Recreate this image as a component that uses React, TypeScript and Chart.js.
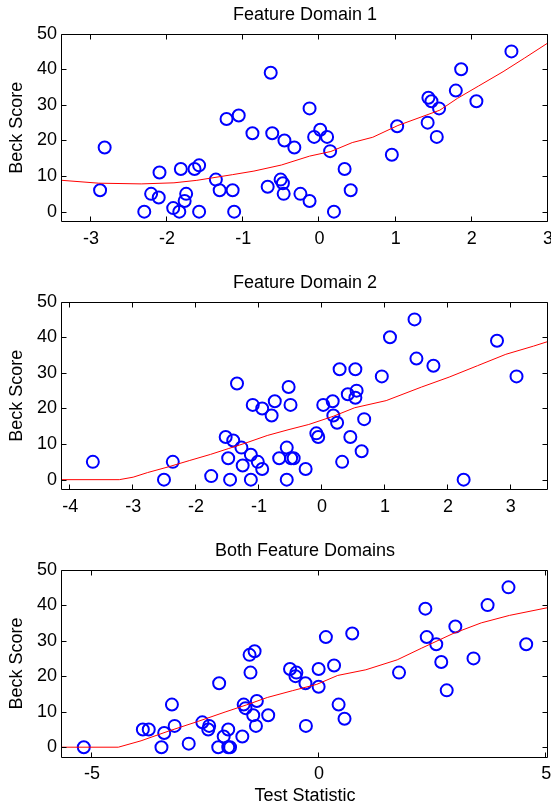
import React, { useEffect, useRef } from "react";
import { Chart, registerables } from "chart.js";

Chart.register(...registerables);

const FONT = '"Liberation Sans", Arial, Helvetica, sans-serif';

const yTicks = [0, 10, 20, 30, 40, 50];

// Panel 1: Feature Domain 1
const p1Title = "Feature Domain 1";
const p1XTicks = [-3, -2, -1, 0, 1, 2, 3];
const p1X = [-2.88, -2.82, -2.3, -2.21, -2.11, -2.1, -1.92, -1.84, -1.82, -1.77, -1.75, -1.64, -1.58, -1.58, -1.36, -1.31, -1.14, -1.12, -1.22, -1.06, -0.88, -0.68, -0.64, -0.62, -0.51, -0.48, -0.47, -0.46, -0.33, -0.25, -0.13, -0.13, -0.07, 0.01, 0.1, 0.14, 0.19, 0.33, 0.41, 0.95, 1.02, 1.42, 1.43, 1.47, 1.54, 1.57, 1.79, 1.86, 2.06, 2.52];
const p1Y = [6, 18, 0, 5, 4, 11, 1, 0, 12, 3, 5, 12, 13, 0, 9, 6, 6, 0, 26, 27, 22, 7, 39, 22, 9, 8, 5, 20, 18, 5, 3, 29, 21, 23, 21, 17, 0, 12, 6, 16, 24, 25, 32, 31, 21, 29, 34, 40, 31, 45];
const p1LineX = [-3.38, -2.9, -2.34, -1.91, -1.61, -1.14, -0.86, -0.5, -0.13, 0.15, 0.43, 0.7, 1.03, 1.58, 1.81, 2.09, 2.41, 2.69, 3.0];
const p1LineY = [8.8, 8.0, 7.8, 8.1, 8.8, 10.4, 11.4, 13.1, 15.6, 16.9, 19.4, 20.9, 24.2, 28.5, 31.8, 35.3, 39.3, 43.1, 47.4];

// Panel 2: Feature Domain 2
const p2Title = "Feature Domain 2";
const p2XTicks = [-4, -3, -2, -1, 0, 1, 2, 3];
const p2X = [-3.64, -2.51, -2.37, -1.76, -1.53, -1.49, -1.46, -1.41, -1.35, -1.28, -1.26, -1.13, -1.13, -1.1, -1.02, -0.95, -0.95, -0.8, -0.75, -0.68, -0.56, -0.56, -0.53, -0.5, -0.49, -0.45, -0.26, -0.09, -0.06, 0.02, 0.17, 0.18, 0.24, 0.28, 0.32, 0.41, 0.45, 0.53, 0.53, 0.55, 0.63, 0.67, 0.95, 1.08, 1.47, 1.5, 1.77, 2.25, 2.78, 3.09];
const p2Y = [5, 0, 5, 1, 12, 6, 0, 11, 27, 9, 4, 7, 0, 21, 5, 3, 20, 18, 22, 6, 9, 0, 26, 21, 6, 6, 3, 13, 12, 21, 22, 18, 16, 31, 5, 24, 12, 23, 31, 25, 8, 17, 29, 40, 45, 34, 32, 0, 39, 29];
const p2LineX = [-4.13, -3.22, -3.0, -2.77, -2.44, -2.1, -1.77, -1.49, -1.21, -0.87, -0.54, -0.21, 0.18, 0.52, 1.02, 1.58, 2.02, 2.47, 2.92, 3.36, 3.59];
const p2LineY = [0, 0, 0.7, 2.0, 3.6, 5.4, 7.1, 8.7, 10.3, 12.4, 14.0, 15.5, 17.8, 20.2, 22.2, 26.0, 28.8, 32.0, 35.2, 37.5, 38.8];

// Panel 3: Both Feature Domains
const p3Title = "Both Feature Domains";
const p3XTicks = [-5, 0, 5];
const p3X = [-5.18, -3.88, -3.75, -3.47, -3.41, -3.24, -3.18, -2.87, -2.57, -2.44, -2.42, -2.22, -2.2, -2.1, -2.0, -2.0, -1.96, -1.69, -1.66, -1.62, -1.53, -1.51, -1.45, -1.42, -1.39, -1.37, -1.12, -0.64, -0.52, -0.5, -0.3, -0.29, -0.01, -0.01, 0.15, 0.33, 0.43, 0.56, 0.73, 1.76, 2.34, 2.37, 2.58, 2.69, 2.81, 3.0, 3.4, 3.71, 4.17, 4.56];
const p3Y = [0, 5, 5, 0, 4, 12, 6, 1, 7, 5, 6, 0, 18, 3, 5, 0, 0, 3, 12, 11, 26, 21, 9, 27, 6, 13, 9, 22, 20, 21, 18, 6, 17, 22, 31, 23, 12, 8, 32, 21, 39, 31, 29, 24, 16, 34, 25, 40, 45, 29];
const p3LineX = [-5.66, -4.42, -3.92, -3.3, -2.68, -2.07, -1.6, -1.14, -0.59, -0.05, 0.41, 1.03, 1.72, 2.26, 2.95, 3.57, 4.19, 5.04];
const p3LineY = [0, 0, 1.8, 4.6, 7.2, 9.9, 11.9, 14.0, 15.9, 17.7, 20.2, 21.8, 24.6, 27.9, 32.0, 35.0, 37.1, 39.3];

const yLabel = "Beck Score";
const xLabel = "Test Statistic";

const boxPlugin = {
  id: "matlabBox",
  afterDraw(chart: any) {
    const { ctx, chartArea, scales } = chart;
    const { left, right, top, bottom } = chartArea;
    const xs = scales.x;
    const ys = scales.y;
    const L = Math.round(left) - 0.5;
    const R = Math.round(right) - 0.5;
    const T = Math.round(top) + 0.5;
    const B = Math.round(bottom) - 0.5;
    const tl = 5;
    ctx.save();
    ctx.strokeStyle = "#000";
    ctx.lineWidth = 1;
    ctx.beginPath();
    ctx.rect(L, T, R - L, B - T);
    xs.ticks.forEach((t: any) => {
      const px = Math.round(xs.getPixelForValue(t.value)) - 0.5;
      ctx.moveTo(px, B);
      ctx.lineTo(px, B - tl);
      ctx.moveTo(px, T);
      ctx.lineTo(px, T + tl);
    });
    ys.ticks.forEach((t: any) => {
      const py = Math.round(ys.getPixelForValue(t.value)) + 0.5;
      ctx.moveTo(L, py);
      ctx.lineTo(L + tl, py);
      ctx.moveTo(R, py);
      ctx.lineTo(R - tl, py);
    });
    ctx.stroke();
    ctx.restore();
  },
};

type PanelProps = {
  top: number;
  height: number;
  title: string;
  xs: number[];
  ys: number[];
  lx: number[];
  ly: number[];
  xmin: number;
  xmax: number;
  xticks: number[];
  xTitle?: string;
  xAxisHeight: number;
};

function Panel(props: PanelProps) {
  const ref = useRef<HTMLCanvasElement>(null);
  useEffect(() => {
    const p = props;
    const chart = new Chart(ref.current as HTMLCanvasElement, {
      type: "scatter",
      data: {
        datasets: [
          {
            data: p.lx.map((x, i) => ({ x, y: p.ly[i] })),
            showLine: true,
            borderColor: "#ff0000",
            borderWidth: 1,
            pointRadius: 0,
            fill: false,
            tension: 0,
          } as any,
          {
            data: p.xs.map((x, i) => ({ x, y: p.ys[i] })),
            pointRadius: 6,
            pointStyle: "circle",
            borderColor: "#0000ff",
            backgroundColor: "rgba(0,0,0,0)",
            borderWidth: 2,
          } as any,
        ],
      },
      options: {
        animation: false,
        responsive: false,
        events: [],
        layout: { autoPadding: false, padding: { left: 0, right: 3, top: 0, bottom: 0 } } as any,
        plugins: {
          legend: { display: false },
          tooltip: { enabled: false },
          title: {
            display: true,
            text: p.title,
            fullSize: false,
            color: "#000",
            font: { family: FONT, size: 18, weight: "normal" as any },
            padding: { top: 4, bottom: 8 },
          },
        },
        scales: {
          x: {
            type: "linear",
            min: p.xmin,
            max: p.xmax,
            grid: { display: false, drawTicks: false, tickLength: 0 },
            border: { display: false },
            ticks: {
              padding: 6,
              color: "#000",
              autoSkip: false,
              maxRotation: 0,
              font: { family: FONT, size: 18 },
              callback: (v: any) => String(v),
            },
            title: {
              display: !!p.xTitle,
              text: p.xTitle || "",
              color: "#000",
              font: { family: FONT, size: 18 },
              padding: { top: 0, bottom: 1 },
            },
            afterBuildTicks: (s: any) => {
              s.ticks = p.xticks.map((v) => ({ value: v }));
            },
            afterFit: (s: any) => {
              s.height = p.xAxisHeight;
              s.paddingLeft = 0;
              s.paddingRight = 0;
            },
          } as any,
          y: {
            type: "linear",
            min: -2.9,
            max: 50,
            grid: { display: false, drawTicks: false, tickLength: 0 },
            border: { display: false },
            ticks: {
              padding: 5,
              color: "#000",
              autoSkip: false,
              font: { family: FONT, size: 18 },
              callback: (v: any) => String(v),
            },
            title: {
              display: true,
              text: yLabel,
              color: "#000",
              font: { family: FONT, size: 18 },
              padding: { top: 6, bottom: 0 },
            },
            afterBuildTicks: (s: any) => {
              s.ticks = yTicks.map((v) => ({ value: v }));
            },
            afterFit: (s: any) => {
              s.width = 62;
              s.paddingTop = 0;
              s.paddingBottom = 0;
            },
          } as any,
        },
      },
      plugins: [boxPlugin],
    });
    return () => chart.destroy();
  }, []);
  return (
    <canvas
      ref={ref}
      width={551}
      height={props.height}
      style={{ position: "absolute", left: 0, top: props.top, width: 551, height: props.height, display: "block" }}
    />
  );
}

export default function App() {
  return (
    <div style={{ position: "absolute", left: 0, top: 0, width: 551, height: 808, background: "#fff" }}>
      <Panel top={0} height={268} title={p1Title} xs={p1X} ys={p1Y} lx={p1LineX} ly={p1LineY} xmin={-3.38} xmax={3.0} xticks={p1XTicks} xAxisHeight={46} />
      <Panel top={268} height={268} title={p2Title} xs={p2X} ys={p2Y} lx={p2LineX} ly={p2LineY} xmin={-4.13} xmax={3.59} xticks={p2XTicks} xAxisHeight={46} />
      <Panel top={536} height={272} title={p3Title} xs={p3X} ys={p3Y} lx={p3LineX} ly={p3LineY} xmin={-5.66} xmax={5.04} xticks={p3XTicks} xTitle={xLabel} xAxisHeight={50.5} />
    </div>
  );
}
